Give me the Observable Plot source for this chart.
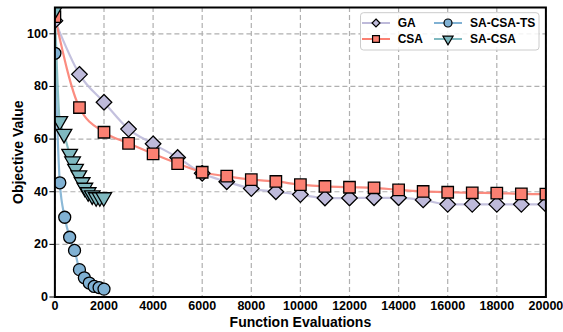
<!DOCTYPE html>
<html>
<head>
<meta charset="utf-8">
<script src="https://cdn.jsdelivr.net/npm/d3@7"></script>
<script src="https://cdn.jsdelivr.net/npm/@observablehq/plot@0.6"></script>
<style>
  body { margin: 0; background: white; }
  #chart { position: relative; width: 563px; height: 332px; }
</style>
</head>
<body>
<div id="chart"></div>
<script>
// ---- data ----
const gaX = [0,1000,2000,3000,4000,5000,6000,7000,8000,9000,10000,11000,12000,13000,14000,15000,16000,17000,18000,19000,20000];
const gaY = [105,84.6,74,63.8,58.2,53,47,43.8,41.2,40,38.9,37.6,37.6,37.7,37.7,36.9,35.2,35.2,35.2,35.2,35.2];
const csaX = [0,1000,2000,3000,4000,5000,6000,7000,8000,9000,10000,11000,12000,13000,14000,15000,16000,17000,18000,19000,20000];
const csaY = [106.5,72,62.6,58.4,54.4,50.7,47.4,45.9,44.6,43.9,42.7,42,41.7,41.5,40.7,40.1,39.8,39.6,39.5,39.2,39.1];
const tsX = [0,200,400,600,800,1000,1200,1400,1600,1800,2000];
const tsY = [92.6,43.4,30.3,22.7,17.7,10.4,7.3,5.3,4.0,3.6,3.0];
const saX = [0,200,370,600,720,840,975,1110,1220,1355,1520,1680,1830,1990];
const saY = [109,66.8,62,54.4,51.5,48.7,46.2,43.6,41.5,39.8,38.6,37.9,37.9,37.9];
const xTicks = [0,2000,4000,6000,8000,10000,12000,14000,16000,18000,20000];
const yTicks = [0,20,40,60,80,100];
const seriesNames = ["GA","CSA","SA-CSA-TS","SA-CSA"];

const colors = {
  "GA": "#bebada",
  "CSA": "#fb8072",
  "SA-CSA-TS": "#80b1d3",
  "SA-CSA": "#7fb9c0"
};

const toRows = (name, xs, ys) => xs.map((x, i) => ({series: name, x, y: ys[i]}));
const ga = toRows("GA", gaX, gaY);
const csa = toRows("CSA", csaX, csaY);
const ts = toRows("SA-CSA-TS", tsX, tsY);
const sa = toRows("SA-CSA", saX, saY);

const font = "'Liberation Sans', Arial, sans-serif";

const lineOpts = (c) => ({x: "x", y: "y", stroke: c, strokeWidth: 2.2, strokeOpacity: 0.9, curve: "monotone-x", clip: true});
const dotOpts = (c, sym, r, extra = {}) => ({x: "x", y: "y", fill: c, stroke: "black", strokeWidth: 1.3, symbol: sym, r, clip: true, ...extra});

const plot = Plot.plot({
  width: 563,
  height: 332,
  marginLeft: 54.4,
  marginRight: 17.6,
  marginTop: 7,
  marginBottom: 35.5,
  style: {fontFamily: font, fontSize: "12px", fontWeight: "bold", color: "black", background: "white"},
  x: {domain: [0, 20000]},
  y: {domain: [0, 110]},
  marks: [
    Plot.gridX(xTicks, {stroke: "#b0b0b0", strokeOpacity: 1, strokeWidth: 1.2, strokeDasharray: "5,3"}),
    Plot.gridY(yTicks, {stroke: "#b0b0b0", strokeOpacity: 1, strokeWidth: 1.2, strokeDasharray: "5,3"}),
    Plot.axisX(xTicks, {tickSize: 0, tickPadding: 4, tickFormat: d3.format("d"), label: null, fontSize: 12.5, fontWeight: "bold", fill: "black", stroke: "black"}),
    Plot.axisY(yTicks, {tickSize: 5, tickPadding: 2, tickFormat: d3.format("d"), label: null, fontSize: 12.5, fontWeight: "bold", fill: "black", stroke: "black"}),
    Plot.line(ga, lineOpts(colors["GA"])),
    Plot.line(csa, lineOpts(colors["CSA"])),
    Plot.line(ts, lineOpts(colors["SA-CSA-TS"])),
    Plot.line(sa, lineOpts(colors["SA-CSA"])),
    Plot.dot(ga, dotOpts(colors["GA"], "diamond2", 7)),
    Plot.dot(csa, dotOpts(colors["CSA"], "square2", 7.3)),
    Plot.dot(ts, dotOpts(colors["SA-CSA-TS"], "circle", 6)),
    Plot.dot(sa, dotOpts(colors["SA-CSA"], "triangle", 5.8, {rotate: 180})),
    Plot.text(["Function Evaluations"], {frameAnchor: "bottom", dy: 25.5, lineAnchor: "middle", textAnchor: "middle", fontSize: 14, fontWeight: "bold", fill: "black"}),
    Plot.text(["Objective Value"], {frameAnchor: "left", dx: -36.4, rotate: -90, lineAnchor: "middle", textAnchor: "middle", fontSize: 14, fontWeight: "bold", fill: "black"}),
    Plot.frame({stroke: "black", strokeWidth: 2})
  ]
});

document.getElementById("chart").appendChild(plot);

// ---- legend (inside plot, top right) ----
const svg = d3.select(plot);
const lg = svg.append("g").attr("font-family", font).attr("font-weight", "bold").attr("font-size", 12).attr("text-anchor", "start");
lg.append("rect")
  .attr("x", 360.5).attr("y", 12.7).attr("width", 178.5).attr("height", 37.3)
  .attr("rx", 3).attr("fill", "white").attr("fill-opacity", 0.85)
  .attr("stroke", "#cccccc").attr("stroke-width", 1);

const legendItems = [
  {name: seriesNames[0], col: 0, row: 0, sym: d3.symbolDiamond2, size: 40},
  {name: seriesNames[1], col: 0, row: 1, sym: d3.symbolSquare2, size: 60},
  {name: seriesNames[2], col: 1, row: 0, sym: d3.symbolCircle, size: 50},
  {name: seriesNames[3], col: 1, row: 1, sym: d3.symbolTriangle, size: 45, rot: 180}
];
const colX = [{l0: 362, l1: 390, m: 376, t: 397.7}, {l0: 434, l1: 462, m: 448, t: 470}];
const rowY = [23, 39];
for (const it of legendItems) {
  const c = colX[it.col], y = rowY[it.row];
  lg.append("line").attr("x1", c.l0).attr("x2", c.l1).attr("y1", y).attr("y2", y)
    .attr("stroke", colors[it.name]).attr("stroke-width", 2);
  lg.append("path").attr("d", d3.symbol(it.sym, it.size)())
    .attr("transform", `translate(${c.m},${y})${it.rot ? ` rotate(${it.rot})` : ""}`)
    .attr("fill", colors[it.name]).attr("stroke", "black").attr("stroke-width", 1.2);
  lg.append("text").attr("x", c.t).attr("y", y).attr("dy", "0.35em").attr("text-anchor", "start").attr("fill", "black").text(it.name);
}
</script>
</body>
</html>
